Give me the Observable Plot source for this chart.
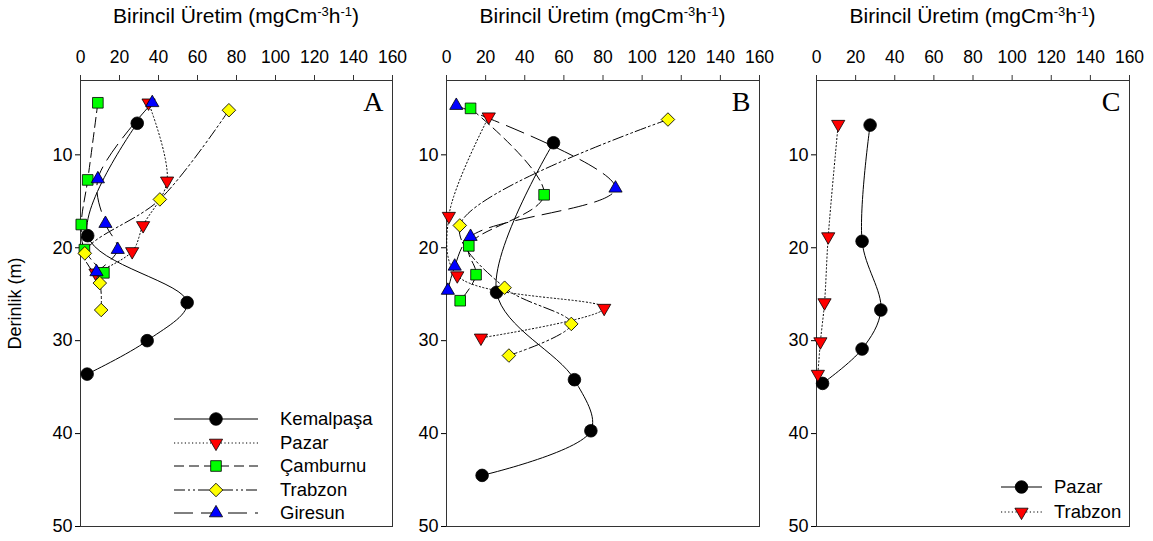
<!DOCTYPE html>
<html>
<head>
<meta charset="utf-8">
<script src="https://cdn.jsdelivr.net/npm/d3@7"></script>
<script src="https://cdn.jsdelivr.net/npm/@observablehq/plot@0.6"></script>
<style>
  html, body { margin: 0; padding: 0; background: #fff; }
  #wrap { position: relative; width: 1153px; height: 541px; overflow: hidden; font-family: "Liberation Sans", Arial, sans-serif; }
  .ptitle { position: absolute; top: 4px; font-size: 21px; white-space: nowrap; transform: translateX(-50%); color: #000; }
  .ptitle sup { font-size: 0.62em; vertical-align: 0.55em; line-height: 0; }
  .panel { position: absolute; top: 0; }
  .legend { position: absolute; font-size: 18.5px; color: #000; }
  .legend .row { position: absolute; left: 0; white-space: nowrap; }
  .legend svg { position: absolute; left: 0; overflow: visible; }
  .legend span { position: absolute; }
</style>
</head>
<body>
<div id="wrap"></div>
<script>
// ---------- data ----------
const xTicks = [0, 20, 40, 60, 80, 100, 120, 140, 160];
const yTicks = [10, 20, 30, 40, 50];
const xTitle = "Birincil Üretim";
const yTitle = "Derinlik (m)";

// Panel A
const aKemalpasaDepth = [6.6, 18.7, 25.9, 30.0, 33.6];
const aKemalpasaValue = [29.1, 3.7, 54.7, 34.2, 3.4];
const aPazarDepth = [4.4, 12.8, 17.6, 20.4, 22.7];
const aPazarValue = [34.9, 44.4, 32.1, 26.5, 7.7];
const aCamburnuDepth = [4.4, 12.7, 17.5, 20.2, 22.7];
const aCamburnuValue = [8.9, 3.7, 0.4, 2.0, 12.0];
const aTrabzonDepth = [5.2, 14.8, 20.6, 23.8, 26.7];
const aTrabzonValue = [76.1, 40.7, 2.2, 9.9, 10.6];
const aGiresunDepth = [4.4, 12.6, 17.4, 20.2, 22.6];
const aGiresunValue = [36.8, 8.9, 12.8, 19.1, 8.2];

// Panel B
const bKemalpasaDepth = [8.7, 24.8, 34.2, 39.7, 44.5];
const bKemalpasaValue = [54.7, 25.6, 65.4, 73.8, 18.2];
const bPazarDepth = [5.9, 16.6, 23.0, 26.5, 29.7];
const bPazarValue = [21.6, 1.2, 5.5, 80.6, 17.6];
const bCamburnuDepth = [5.0, 14.3, 19.8, 22.9, 25.7];
const bCamburnuValue = [12.3, 49.9, 11.4, 15.1, 7.0];
const bTrabzonDepth = [6.2, 17.6, 24.3, 28.2, 31.6];
const bTrabzonValue = [113.2, 6.8, 29.7, 63.8, 31.9];
const bGiresunDepth = [4.7, 13.6, 18.8, 22.0, 24.6];
const bGiresunValue = [5.0, 86.4, 12.3, 4.2, 0.7];

// Panel C
const cPazarDepth = [6.8, 19.3, 26.7, 30.9, 34.6];
const cPazarValue = [27.4, 23.3, 32.9, 23.3, 3.1];
const cTrabzonDepth = [6.7, 18.8, 25.9, 30.1, 33.6];
const cTrabzonValue = [11.1, 6.0, 4.1, 2.0, 0.7];

// ---------- styles ----------
const STY = {
  circle:   {symbol: "circle", r: 6.3, fill: "#000000", rotate: 0},
  dotted:   {symbol: "triangle", r: 4.9, fill: "#ff0000", rotate: 180},
  dashed:   {symbol: "square", r: 6.0, fill: "#00ff00", rotate: 0},
  dashdot:  {symbol: "square", r: 5.4, fill: "#ffff00", rotate: 45},
  longdash: {symbol: "triangle", r: 4.9, fill: "#0000ff", rotate: 0}
};
const DASH = {solid: null, dotted: "1.2,2.4", dashed: "10,5", dashdot: "11,3,2,3,2,3", longdash: "19,8"};

function rows(depths, values) { return depths.map((d, i) => ({d, v: values[i]})); }

const seriesA = [
  {name: "Kemalpaşa", data: rows(aKemalpasaDepth, aKemalpasaValue), st: STY.circle, dash: DASH.solid},
  {name: "Pazar", data: rows(aPazarDepth, aPazarValue), st: STY.dotted, dash: DASH.dotted},
  {name: "Çamburnu", data: rows(aCamburnuDepth, aCamburnuValue), st: STY.dashed, dash: DASH.dashed},
  {name: "Trabzon", data: rows(aTrabzonDepth, aTrabzonValue), st: STY.dashdot, dash: DASH.dashdot},
  {name: "Giresun", data: rows(aGiresunDepth, aGiresunValue), st: STY.longdash, dash: DASH.longdash}
];
const seriesB = [
  {name: "Kemalpaşa", data: rows(bKemalpasaDepth, bKemalpasaValue), st: STY.circle, dash: DASH.solid},
  {name: "Pazar", data: rows(bPazarDepth, bPazarValue), st: STY.dotted, dash: DASH.dotted},
  {name: "Çamburnu", data: rows(bCamburnuDepth, bCamburnuValue), st: STY.dashed, dash: DASH.dashed},
  {name: "Trabzon", data: rows(bTrabzonDepth, bTrabzonValue), st: STY.dashdot, dash: DASH.dashdot},
  {name: "Giresun", data: rows(bGiresunDepth, bGiresunValue), st: STY.longdash, dash: DASH.longdash}
];
const seriesC = [
  {name: "Pazar", data: rows(cPazarDepth, cPazarValue), st: STY.circle, dash: DASH.solid},
  {name: "Trabzon", data: rows(cTrabzonDepth, cTrabzonValue), st: STY.dotted, dash: DASH.dotted}
];

const wrap = document.getElementById("wrap");
const FONT = "'Liberation Sans', Arial, sans-serif";

function makePanel({series, left, width, ml, mr, letter, ylab}) {
  const marks = [
    Plot.frame({stroke: "#333", strokeWidth: 1}),
    Plot.axisX({anchor: "top", ticks: xTicks, tickSize: 6, tickPadding: 12, label: null, fontSize: 17.5, stroke: "#333"}),
    Plot.axisY({anchor: "left", ticks: yTicks, tickSize: 5, tickPadding: 3, fontSize: 18,
      label: ylab, labelAnchor: "center", labelArrow: "none", labelOffset: 72}),
  ];
  for (const s of series) {
    marks.push(Plot.line(s.data, {x: "v", y: "d", curve: "catmull-rom", stroke: "#000", strokeWidth: 1,
      strokeDasharray: s.dash || undefined}));
  }
  for (const s of series) {
    marks.push(Plot.dot(s.data, {x: "v", y: "d", symbol: s.st.symbol, r: s.st.r, fill: s.st.fill,
      stroke: "#000", strokeWidth: 0.8, rotate: s.st.rotate}));
  }
  marks.push(Plot.text([letter], {text: d => d, frameAnchor: "top-right", dx: -9, dy: 22,
    textAnchor: "end", lineAnchor: "middle", fontSize: 28, fontFamily: "'Liberation Serif', 'Times New Roman', serif"}));
  const svg = Plot.plot({
    width, height: 541, marginTop: 80, marginBottom: 15, marginLeft: ml, marginRight: mr,
    style: {fontFamily: FONT, fontSize: "17px", background: "transparent", overflow: "visible", color: "#000"},
    x: {domain: [0, 160]},
    y: {domain: [2, 50], reverse: true},
    marks
  });
  const div = document.createElement("div");
  div.className = "panel";
  div.style.left = left + "px";
  div.appendChild(svg);
  wrap.appendChild(div);

  const t = document.createElement("div");
  t.className = "ptitle";
  t.style.left = (left + ml + (width - ml - mr) / 2) + "px";
  t.innerHTML = xTitle + " (mgCm<sup>-3</sup>h<sup>-1</sup>)";
  wrap.appendChild(t);
}

makePanel({series: seriesA, left: 0, width: 400, ml: 80, mr: 8, letter: "A", ylab: yTitle});
makePanel({series: seriesB, left: 400, width: 370, ml: 46, mr: 11, letter: "B", ylab: null});
makePanel({series: seriesC, left: 770, width: 383, ml: 46, mr: 24, letter: "C", ylab: null});

// ---------- legends ----------
function legend({series, left, top, rowH, lineLen, textX}) {
  const lg = document.createElement("div");
  lg.className = "legend";
  lg.style.left = left + "px";
  lg.style.top = top + "px";
  wrap.appendChild(lg);
  series.forEach((s, i) => {
    const row = document.createElement("div");
    row.className = "row";
    row.style.top = (i * rowH) + "px";
    const svg = d3.create("svg").attr("width", lineLen).attr("height", 20).style("top", "0px");
    svg.append("line").attr("x1", 0).attr("x2", lineLen).attr("y1", 10).attr("y2", 10)
      .attr("stroke", "#000").attr("stroke-width", 1).attr("stroke-dasharray", s.dash || null);
    const size = Math.PI * s.st.r * s.st.r;
    const sym = {circle: d3.symbolCircle, triangle: d3.symbolTriangle, square: d3.symbolSquare}[s.st.symbol];
    svg.append("path").attr("d", d3.symbol(sym, size)())
      .attr("transform", `translate(${lineLen / 2},10) rotate(${s.st.rotate})`)
      .attr("fill", s.st.fill).attr("stroke", "#000").attr("stroke-width", 0.8);
    row.appendChild(svg.node());
    const sp = document.createElement("span");
    sp.textContent = s.name;
    sp.style.left = textX + "px";
    sp.style.top = "-1px";
    row.appendChild(sp);
    lg.appendChild(row);
  });
}
legend({series: seriesA, left: 174, top: 409, rowH: 23.5, lineLen: 84, textX: 106});
legend({series: seriesC, left: 1001, top: 477, rowH: 24.5, lineLen: 41, textX: 53});
</script>
</body>
</html>
